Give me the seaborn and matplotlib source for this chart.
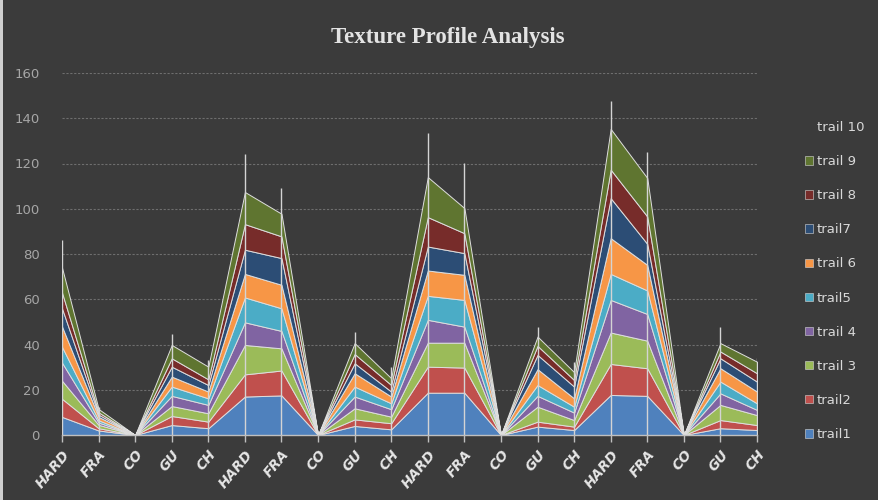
import matplotlib
matplotlib.use("Agg")
import matplotlib.pyplot as plt
from matplotlib.patches import Patch, Rectangle
import numpy as np
import seaborn as sns

# Test categories, repeated for four sample groups
categories = ["HARD", "FRA", "CO", "GU", "CH"] * 4

trail1 = [8, 2, 0, 4.4, 3, 17, 17.5, 0, 4, 2.5, 18.7, 18.7, 0, 3.7, 2.2, 17.7, 17.3, 0, 3, 2.2]
trail2 = [8, 1, 0, 4, 2.9, 9.8, 11, 0, 2.9, 2.7, 11.5, 11.1, 0, 2.2, 1.5, 13.7, 12.2, 0, 3.6, 2.2]
trail3 = [8, 1.5, 0, 4.4, 3.7, 13, 9.8, 0, 4.9, 2.9, 10.6, 11, 0, 6.6, 2.9, 13.9, 12.2, 0, 6.7, 4.4]
trail4 = [8, 1, 0, 4.5, 3.7, 10, 7.7, 0, 5.2, 3.3, 10.1, 7.1, 0, 4.8, 3.3, 14.4, 11.8, 0, 5.1, 2.3]
trail5 = [7, 1, 0, 4.1, 2.9, 11, 10, 0, 4.4, 2.6, 10.6, 11.8, 0, 4.8, 2.6, 11.5, 10.4, 0, 5.2, 2.9]
trail6 = [9, 1.5, 0, 4.4, 3, 10.4, 10.4, 0, 5.9, 3, 11.2, 11.1, 0, 7, 3.7, 15.8, 11.3, 0, 5.9, 5.2]
trail7 = [8, 1, 0, 4.4, 2.9, 10.7, 11.8, 0, 4.4, 2.2, 10.6, 9.6, 0, 6.3, 5.2, 17.7, 9.3, 0, 4.4, 4.4]
trail8 = [7, 1, 0, 3.7, 2.5, 11.3, 9.6, 0, 4.1, 2.9, 13, 8.8, 0, 4, 2.9, 12.6, 12.1, 0, 3, 3.7]
trail9 = [11, 1.5, 0, 5.9, 5.6, 14.2, 10, 0, 4.8, 3, 17.7, 11.1, 0, 4.1, 3.5, 18, 17, 0, 3.7, 5.1]
trail10 = [12, 1, 0, 4.7, 2.8, 16.9, 11.2, 0, 5.1, 5.1, 19.5, 19.9, 0, 4.4, 4.5, 12.2, 11.3, 0, 7, 1.5]

series = [trail1, trail2, trail3, trail4, trail5, trail6, trail7, trail8, trail9, trail10]
labels = ["trail1", "trail2", "trail 3", "trail 4", "trail5",
          "trail 6", "trail7", "trail 8", "trail 9", "trail 10"]
yticks = [0, 20, 40, 60, 80, 100, 120, 140, 160]

BG = "#3b3b3b"
sns.set_theme(style="dark", rc={"axes.facecolor": BG, "figure.facecolor": BG})
plt.rcParams["font.family"] = ["DejaVu Sans"]

colors = sns.color_palette(["#4F81BD", "#C0504D", "#9BBB59", "#8064A2", "#4BACC6",
                            "#F79646", "#2C4D75", "#772C2A", "#5F7530", "#4D3B62"])

fig = plt.figure(figsize=(8.79, 5.0), dpi=100)
ax = fig.add_axes([62 / 879, 1 - 435 / 500, (757 - 62) / 879, (435 - 73) / 500])
ax.set_facecolor(BG)

x = np.arange(len(categories))
polys = ax.stackplot(x, *series, colors=colors, edgecolor="#dedede", linewidth=0.7, zorder=2)
# last series is shown only through its drop line
polys[-1].set_facecolor("none")
polys[-1].set_edgecolor("none")

totals = np.sum(np.array(series), axis=0)
ax.vlines(x, 0, totals, color="#d4d4d4", linewidth=1.0, zorder=3)

ax.set_xlim(0, len(categories) - 1)
ax.set_ylim(0, 160)
ax.set_yticks(yticks)
ax.set_yticklabels([str(v) for v in yticks])
ax.set_xticks(x)
ax.set_xticklabels(categories, rotation=50, ha="right", rotation_mode="anchor",
                   fontsize=10, fontweight="bold", fontstyle="italic", color="#e6e6e6")
ax.tick_params(axis="y", length=0, pad=16, labelsize=9.5, labelcolor="#a6a6a6")
ax.tick_params(axis="x", length=5, width=1, color="#bfbfbf", direction="out", pad=4, bottom=True)

ax.grid(axis="y", color="#6e6e6e", linestyle=(0, (2, 1.5)), linewidth=0.8, zorder=0)
ax.grid(axis="x", visible=False)
for side in ["top", "right", "left"]:
    ax.spines[side].set_visible(False)
ax.spines["bottom"].set_color("#bfbfbf")
ax.spines["bottom"].set_linewidth(1.0)
ax.spines["bottom"].set_zorder(4)

fig.text(0.509, 1 - 37 / 500, "Texture Profile Analysis", ha="center", va="center",
         fontsize=16.5, fontweight="bold", family="Liberation Serif", color="#e3e3e3")

handles = []
for i in range(len(series) - 1, -1, -1):
    if i == len(series) - 1:
        handles.append(Patch(facecolor="none", edgecolor="none", label=labels[i]))
    else:
        handles.append(Patch(facecolor=colors[i], edgecolor="#d9d9d9", linewidth=0.4, label=labels[i]))
leg = fig.legend(handles=handles, loc="upper left", bbox_to_anchor=(805 / 879, 1 - 121 / 500),
                 frameon=False, fontsize=9.5, labelcolor="#d9d9d9",
                 handlelength=0.6, handleheight=0.6, handletextpad=0.3, labelspacing=1.6,
                 borderaxespad=0, borderpad=0)

fig.patches.append(Rectangle((0, 0), 3 / 879, 1, transform=fig.transFigure,
                             facecolor="#cfcfcf", edgecolor="none"))

fig.savefig("out.png", dpi=100, facecolor=BG)
